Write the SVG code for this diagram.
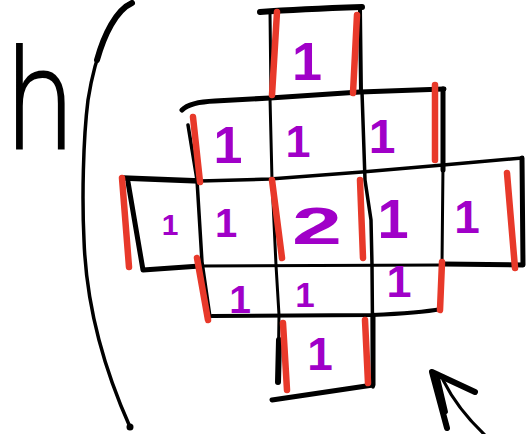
<svg xmlns="http://www.w3.org/2000/svg" width="530" height="434" viewBox="0 0 530 434">
<style>
.k{fill:none;stroke:#000;stroke-linecap:round;stroke-linejoin:round}
.r{fill:none;stroke:#e8392a;stroke-width:6.5;stroke-linecap:round}
.p{fill:#a000c8;font-family:"Liberation Sans",Arial,sans-serif;font-weight:bold;text-anchor:middle}
.h{fill:#000;stroke:#000;stroke-width:2;font-family:"DejaVu Sans",sans-serif;font-weight:200}
</style>
<rect width="530" height="434" fill="#fff"/>
<g id="bracket">
<path class="k" stroke-width="3.5" d="M132,2 C112,10 95,55 88,100 C83,140 82,200 84,240 C86,300 100,360 130,427"/>
<path class="k" stroke-width="6" d="M132,3 C116,10 104,35 97,60"/>
<circle cx="130" cy="427" r="3.5"/>
</g>
<g id="h-label">
<text class="h" x="4" y="148" font-size="138" textLength="72" lengthAdjust="spacingAndGlyphs">h</text>
</g>
<g id="grid">
<path class="k" stroke-width="6" d="M260,12 Q300,9 362,7"/>
<path class="k" stroke-width="3" d="M270,12 L271,98"/>
<path class="k" stroke-width="4" d="M360,8 L361,92"/>
<path class="k" stroke-width="5" d="M182,110 Q190,102 215,101 L270,98 L360,92 L444,89"/>
<path class="k" stroke-width="5" d="M443,89 L443,170"/>
<path class="k" stroke-width="3" d="M443,165 L442,265"/>
<path class="k" stroke-width="3.5" d="M188,125 L197,180 L202,262 L210,317"/>
<path class="k" stroke-width="3" d="M270,98 L272,180 L276,265 L279,315 L278,382"/>
<path class="k" stroke-width="6" d="M279,340 L278,382"/>
<path class="k" stroke-width="3.5" d="M362,92 L365,180 L371,220 L372,265 L373,387"/>
<path class="k" stroke-width="3.5" d="M200,181 L270,179 L362,172 L443,165 L522,158"/>
<path class="k" stroke-width="5.5" d="M123,178 L200,181"/>
<path class="k" stroke-width="5" d="M128,182 L143,270 L200,266"/>
<path class="k" stroke-width="3" d="M200,266 L443,265"/>
<path class="k" stroke-width="5" d="M443,264 L523,265 L522,158"/>
<path class="k" stroke-width="4" d="M212,316 L372,315 Q420,313 441,309 L441,263"/>
<path class="k" stroke-width="5" d="M272,400 L373,385 L373,315"/>
</g>
<g id="red-edges">
<path class="r" d="M277,12 L272,95"/>
<path class="r" d="M357,15 L353,93"/>
<path class="r" d="M193,117 L200,182"/>
<path class="r" d="M435,85 L435,160"/>
<path class="r" d="M122,178 L129,267"/>
<path class="r" d="M272,180 L282,258"/>
<path class="r" d="M360,180 L363,258"/>
<path class="r" d="M507,173 L515,268"/>
<path class="r" d="M197,258 L208,320"/>
<path class="r" d="M442,262 L440,310"/>
<path class="r" d="M283,323 L287,390"/>
<path class="r" d="M365,320 L368,383"/>
</g>
<g id="labels">
<text class="p" x="307" y="80" font-size="54">1</text>
<text class="p" x="228" y="163" font-size="52">1</text>
<text class="p" x="298" y="157" font-size="45">1</text>
<text class="p" x="382" y="153" font-size="48">1</text>
<text class="p" x="170" y="235" font-size="30">1</text>
<text class="p" x="226" y="237" font-size="40">1</text>
<text class="p" x="317" y="244" font-size="52" textLength="50" lengthAdjust="spacingAndGlyphs">2</text>
<text class="p" x="393" y="238" font-size="56">1</text>
<text class="p" x="467" y="233" font-size="46">1</text>
<text class="p" x="240" y="313" font-size="39">1</text>
<text class="p" x="305" y="307" font-size="35">1</text>
<text class="p" x="399" y="297" font-size="45">1</text>
<text class="p" x="320" y="370" font-size="46">1</text>
</g>
<g id="arrow">
<path class="k" stroke-width="6" d="M447,428 L432,372 L475,392"/>
<path class="k" stroke-width="4" d="M438,378 L446,412"/>
<path class="k" stroke-width="3" d="M443,380 Q458,410 486,436"/>
</g>
</svg>
